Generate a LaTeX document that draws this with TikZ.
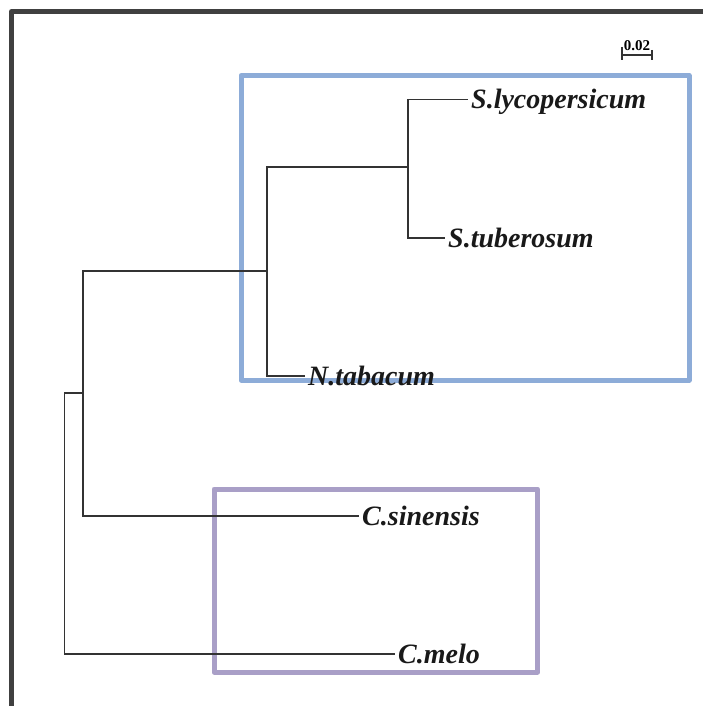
\documentclass[tikz,border=0pt]{standalone}
\usepackage{fontspec}
\setmainfont{Liberation Serif}
\begin{document}
\begin{tikzpicture}[x=1pt,y=-1pt,
  branch/.style={draw=black!80, line width=1.6pt},
  taxon/.style={anchor=base west, inner sep=0pt, xshift=3pt, yshift=-9.5pt,
    font=\fontsize{28}{30}\selectfont\bfseries\itshape, text=black!90},
  cladebox/.style={line width=5pt, line join=round},
  frameline/.style={draw=black!75, line width=5pt, line join=round}]
\definecolor{solblue}{RGB}{141,172,216}
\definecolor{cucpurple}{RGB}{169,159,199}
\useasboundingbox (0,0) rectangle (703,706);
\fill[white] (0,0) rectangle (703,706);
\clip (0,0) rectangle (703,706);

% outer frame (top and left edges)
\draw[frameline] (11.5,720) -- (11.5,11.5) -- (720,11.5);

% clade boxes
\draw[cladebox, draw=solblue] (241,75.5) rectangle (689,380);
\draw[cladebox, draw=cucpurple] (214,489) rectangle (537.5,672);

% scale bar
\node[font=\fontsize{15}{16}\selectfont\bfseries, inner sep=0pt] (sclab) at (637,45.5) {0.02};
\coordinate (sba) at (622,55);
\coordinate (sbb) at (652,55);
\draw[branch, line width=1.2pt] (sba) -- (sbb);
\draw[branch, line width=1.2pt] ([yshift=8pt]sba) -- ([yshift=-5pt]sba);
\draw[branch, line width=1.2pt] ([yshift=5pt]sbb) -- ([yshift=-5pt]sbb);

% leaf tips
\coordinate (tSlyc) at (468,99.5);
\coordinate (tStub) at (445,238);
\coordinate (tNtab) at (305,376);
\coordinate (tCsin) at (359,516);
\coordinate (tCmel) at (395,654);

% internal nodes
\coordinate (nSol) at (408,167);
\coordinate (nSolan) at (267,271);
\coordinate (nTop) at (83,393);
\coordinate (nRoot) at (64.5,523);

% taxon labels
\node[taxon] (Slyc) at (tSlyc) {S.lycopersicum};
\node[taxon] (Stub) at (tStub) {S.tuberosum};
\node[taxon] (Ntab) at (tNtab) {N.tabacum};
\node[taxon] (Csin) at (tCsin) {C.sinensis};
\node[taxon] (Cmel) at (tCmel) {C.melo};

% branches
\draw[branch] (nSol) |- (tSlyc);
\draw[branch] (nSol) |- (tStub);
\draw[branch] (nSolan) |- (nSol);
\draw[branch] (nSolan) |- (tNtab);
\draw[branch] (nTop) |- (nSolan);
\draw[branch] (nTop) |- (tCsin);
\draw[branch] (nRoot) |- (nTop);
\draw[branch] (nRoot) |- (tCmel);
\end{tikzpicture}
\end{document}
